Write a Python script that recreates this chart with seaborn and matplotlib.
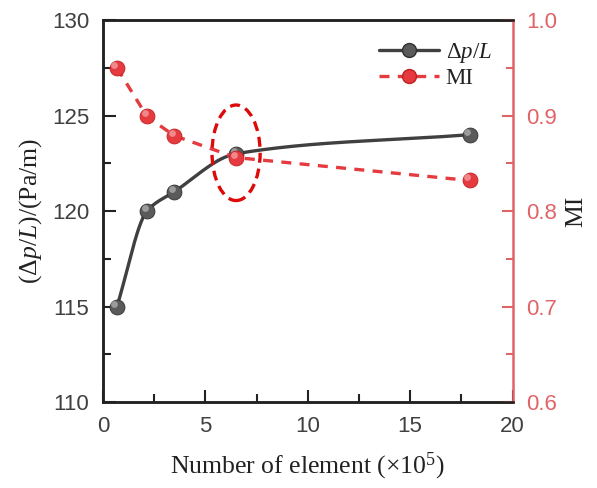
import numpy as np
import pandas as pd
import seaborn as sns
import matplotlib
matplotlib.use("Agg")
import matplotlib.pyplot as plt
from matplotlib.patches import Ellipse
from matplotlib.lines import Line2D
import matplotlib.transforms as mtransforms

# Mesh sizes (x 10^5 elements) and the two responses
elements = [0.68, 2.15, 3.47, 6.5, 17.9]
pressure_drop = [115.0, 120.0, 121.0, 123.0, 124.0]
mi_values = [0.950, 0.899, 0.879, 0.856, 0.832]

x_ticks = [0, 5, 10, 15, 20]
left_ticks = [110, 115, 120, 125, 130]
right_ticks = [0.6, 0.7, 0.8, 0.9, 1.0]

sns.set_theme(style="ticks")
plt.rcParams["font.family"] = ["Liberation Sans", "DejaVu Sans"]
plt.rcParams["mathtext.fontset"] = "custom"
plt.rcParams["mathtext.rm"] = "Liberation Serif"
plt.rcParams["mathtext.it"] = "Liberation Serif:italic"
plt.rcParams["mathtext.bf"] = "Liberation Serif:bold"

BLACK = "#404040"
RED = "#e53a3f"
AXRED = "#e06467"
SERIF = "Liberation Serif"


def smooth_curve(x, y, xs):
    """Monotone cubic Hermite curve through the points, straight end slopes."""
    x = np.asarray(x, float)
    y = np.asarray(y, float)
    h = np.diff(x)
    d = np.diff(y) / h
    m = np.zeros_like(y)
    for k in range(1, len(x) - 1):
        if d[k - 1] * d[k] > 0:
            w1 = 2 * h[k] + h[k - 1]
            w2 = h[k] + 2 * h[k - 1]
            m[k] = (w1 + w2) / (w1 / d[k - 1] + w2 / d[k])
    m[0] = d[0]
    m[-1] = d[-1]
    out = np.empty_like(xs)
    for i, xv in enumerate(xs):
        k = min(np.searchsorted(x, xv, side="right") - 1, len(x) - 2)
        k = max(k, 0)
        t = (xv - x[k]) / h[k]
        h00 = 2 * t**3 - 3 * t**2 + 1
        h10 = t**3 - 2 * t**2 + t
        h01 = -2 * t**3 + 3 * t**2
        h11 = t**3 - t**2
        out[i] = h00 * y[k] + h10 * h[k] * m[k] + h01 * y[k + 1] + h11 * h[k] * m[k + 1]
    return out


def sphere_markers(ax, x, y, color, dark):
    """Shaded ball markers: base disc plus an offset highlight."""
    sns.scatterplot(x=x, y=y, ax=ax, s=115, color=color, edgecolor=dark,
                    linewidth=0.6, zorder=5, legend=False)
    hl = ax.scatter(x, y, s=24, color="white", alpha=0.4, linewidths=0, zorder=6)
    hl.set_offset_transform(mtransforms.offset_copy(ax.transData, fig=ax.figure,
                                                    x=-1.8, y=2.2, units="points"))


fig = plt.figure(figsize=(5.97, 4.88), dpi=100)
ax = fig.add_axes([0.1725, 0.176, 0.686, 0.783])
ax2 = ax.twinx()

# Pressure-drop curve (smooth) on the left axis
xs = np.linspace(elements[0], elements[-1], 400)
curve = pd.DataFrame({"x": xs, "y": smooth_curve(elements, pressure_drop, xs)})
sns.lineplot(data=curve, x="x", y="y", ax=ax, color=BLACK, linewidth=2.4, zorder=4)
sphere_markers(ax, elements, pressure_drop, "#5a5a5a", "#303030")

# MI on the right axis
mi_df = pd.DataFrame({"x": elements, "y": mi_values})
sns.lineplot(data=mi_df, x="x", y="y", ax=ax2, color=RED, linewidth=2.4,
             linestyle=(0, (3, 2.5)), zorder=4)
sphere_markers(ax2, elements, mi_values, RED, "#c02020")

# Highlighted mesh
ax.add_patch(Ellipse((elements[3], pressure_drop[3] + 0.05), width=2.35, height=5.0,
                     fill=False, edgecolor="#dd0a0a", linewidth=2.4,
                     linestyle=(0, (3, 1.8)), zorder=7))

ax.set_xlim(0, 20)
ax.set_ylim(110, 130)
ax2.set_ylim(0.6, 1.0)
ax.set_xticks(x_ticks)
ax.set_yticks(left_ticks)
ax2.set_yticks(right_ticks)
ax.set_xticks([2.5, 7.5, 12.5, 17.5], minor=True)
ax.set_yticks([112.5, 117.5, 122.5, 127.5], minor=True)
ax2.set_yticks([0.65, 0.75, 0.85, 0.95], minor=True)
ax.set_xticklabels([str(v) for v in x_ticks])
ax.set_yticklabels([str(v) for v in left_ticks])
ax2.set_yticklabels([f"{v:.1f}" for v in right_ticks])

ax.tick_params(axis="both", which="major", direction="in", length=9, width=1.5,
               labelsize=16, colors="#222222", labelcolor="#404040", pad=10)
ax.tick_params(axis="both", which="minor", direction="in", length=6, width=1.5,
               colors="#222222")
ax2.tick_params(axis="y", which="major", direction="in", length=8, width=1.5,
                labelsize=16, colors=AXRED, labelcolor=AXRED, pad=10)
ax2.tick_params(axis="y", which="minor", direction="in", length=5, width=1.5,
                colors=AXRED)

for a in (ax, ax2):
    for s in a.spines.values():
        s.set_linewidth(1.8)
        s.set_color("#222222")
    a.spines["top"].set_visible(True)
    a.spines["right"].set_visible(True)
ax.spines["right"].set_visible(False)
ax2.spines["right"].set_color(AXRED)

ax.set_xlabel(r"Number of element ($\times\mathregular{10^5}$)", fontsize=18.5,
              family=SERIF, color="#222222", labelpad=10)
ax.set_ylabel(r"$(\Delta p/L)/(\mathrm{Pa/m})$", fontsize=18.5, color="#222222",
              labelpad=6)
ax2.set_ylabel("MI", fontsize=18.5, family=SERIF, color="#222222", labelpad=6)

handles = [
    Line2D([], [], color=BLACK, lw=2.4, marker="o", markersize=10,
           markerfacecolor="#5a5a5a", markeredgecolor="#303030"),
    Line2D([], [], color=RED, lw=2.4, linestyle=(0, (3, 2.5)), marker="o",
           markersize=10, markerfacecolor=RED, markeredgecolor="#c02020"),
]
leg = ax.legend(handles, [r"$\Delta p/L$", "MI"], loc="upper right",
                bbox_to_anchor=(1.0, 1.0), frameon=False,
                handlelength=2.6, handletextpad=0.3, labelspacing=0.15,
                prop={"family": SERIF, "size": 16.5})
for t in leg.get_texts():
    t.set_color("#222222")

fig.savefig("out.png", dpi=100)
